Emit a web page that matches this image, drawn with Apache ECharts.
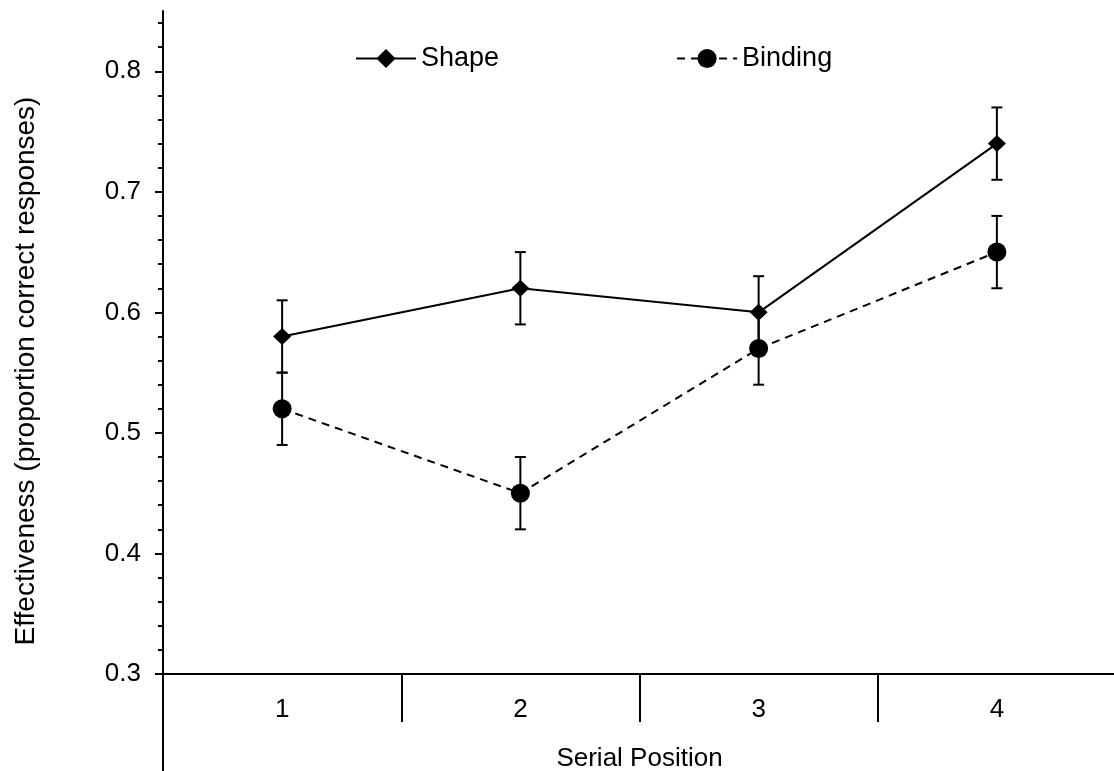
<!DOCTYPE html>
<html>
<head>
<meta charset="utf-8">
<script src="https://cdn.jsdelivr.net/npm/echarts@6/dist/echarts.min.js"></script>
<style>
  html, body { margin: 0; padding: 0; background: #fff; }
  #chart { width: 1114px; height: 771px; }
</style>
</head>
<body>
<div id="chart"></div>
<script>
// data
const positions = ['1', '2', '3', '4'];
const shapeValues = [0.58, 0.62, 0.60, 0.74];
const shapeErrors = [0.03, 0.03, 0.03, 0.03];
const bindingValues = [0.52, 0.45, 0.57, 0.65];
const bindingErrors = [0.03, 0.03, 0.03, 0.03];
const yMajorTicks = [0.3, 0.4, 0.5, 0.6, 0.7, 0.8];
const yMinorTicks = [
  0.32, 0.34, 0.36, 0.38, 0.42, 0.44, 0.46, 0.48,
  0.52, 0.54, 0.56, 0.58, 0.62, 0.64, 0.66, 0.68,
  0.72, 0.74, 0.76, 0.78, 0.82, 0.84
];

// layout: x axis crosses at 0.3, y axis line runs on below it
const chartH = 771;
const plotTop = 11;
const xAxisY = 674;
const yMax = 0.85;
const yCross = 0.3;
const yMin = yCross - (chartH - xAxisY) * (yMax - yCross) / (xAxisY - plotTop);

const font = 'Liberation Sans, Arial, sans-serif';
const ink = '#000';

function errorData(values, errors) {
  return values.map((v, i) => [i, v - errors[i], v + errors[i]]);
}

function renderError(params, api) {
  const lo = api.coord([api.value(0), api.value(1)]);
  const hi = api.coord([api.value(0), api.value(2)]);
  const x = lo[0];
  const cap = 5.5;
  const style = { stroke: ink, lineWidth: 2 };
  return {
    type: 'group',
    children: [
      { type: 'line', shape: { x1: x, y1: lo[1], x2: x, y2: hi[1] }, style: style },
      { type: 'line', shape: { x1: x - cap, y1: lo[1], x2: x + cap, y2: lo[1] }, style: style },
      { type: 'line', shape: { x1: x - cap, y1: hi[1], x2: x + cap, y2: hi[1] }, style: style }
    ]
  };
}

const option = {
  animation: false,
  backgroundColor: '#fff',
  textStyle: { fontFamily: font, color: ink },
  grid: {
    left: 163,
    right: -2,
    top: plotTop,
    bottom: 0,
    containLabel: false,
    outerBoundsMode: 'none'
  },
  legend: {
    data: ['Shape', 'Binding'],
    left: 355,
    top: 45,
    padding: 0,
    itemWidth: 60,
    itemHeight: 24,
    itemGap: 177,
    textStyle: { fontSize: 27, color: ink, fontFamily: font }
  },
  xAxis: {
    type: 'category',
    data: positions,
    boundaryGap: true,
    position: 'bottom',
    offset: -(chartH - xAxisY),
    axisLine: { show: true, lineStyle: { color: ink, width: 2 } },
    axisTick: { show: true, interval: 0, alignWithLabel: false, length: 48, lineStyle: { color: ink, width: 2 } },
    axisLabel: { fontSize: 26, color: ink, margin: 23, fontFamily: font },
    name: 'Serial Position',
    nameLocation: 'middle',
    nameGap: 72,
    nameTextStyle: { fontSize: 26, color: ink, fontFamily: font },
    splitLine: { show: false }
  },
  yAxis: [
    {
      type: 'value',
      min: yMin,
      max: yMax,
      position: 'left',
      axisLine: { show: true, lineStyle: { color: ink, width: 2 } },
      axisTick: { show: true, customValues: yMajorTicks, length: 8, lineStyle: { color: ink, width: 2 } },
      axisLabel: {
        customValues: yMajorTicks,
        fontSize: 26,
        color: ink,
        margin: 22,
        fontFamily: font,
        formatter: v => v.toFixed(1)
      },
      splitLine: { show: false },
      name: 'Effectiveness (proportion correct responses)',
      nameLocation: 'middle',
      nameRotate: 90,
      nameGap: 123,
      nameTextStyle: { fontSize: 28, color: ink, fontFamily: font, padding: [0, 0, 0, 40] }
    },
    {
      type: 'value',
      min: yMin,
      max: yMax,
      position: 'left',
      axisLine: { show: false },
      axisTick: { show: true, customValues: yMinorTicks, length: 5, lineStyle: { color: ink, width: 2 } },
      axisLabel: { show: false },
      splitLine: { show: false }
    }
  ],
  series: [
    {
      type: 'custom',
      renderItem: renderError,
      data: errorData(shapeValues, shapeErrors),
      encode: { x: 0, y: [1, 2] },
      z: 1,
      silent: true
    },
    {
      type: 'custom',
      renderItem: renderError,
      data: errorData(bindingValues, bindingErrors),
      encode: { x: 0, y: [1, 2] },
      z: 1,
      silent: true
    },
    {
      name: 'Shape',
      type: 'line',
      data: shapeValues,
      symbol: 'diamond',
      symbolSize: [18, 17],
      itemStyle: { color: ink },
      lineStyle: { color: ink, width: 2 },
      z: 3
    },
    {
      name: 'Binding',
      type: 'line',
      data: bindingValues,
      symbol: 'circle',
      symbolSize: 19,
      itemStyle: { color: ink },
      lineStyle: { color: ink, width: 2, type: [8, 6] },
      z: 3
    }
  ]
};

const mychart = echarts.init(document.getElementById('chart'));
mychart.setOption(option);
</script>
</body>
</html>
